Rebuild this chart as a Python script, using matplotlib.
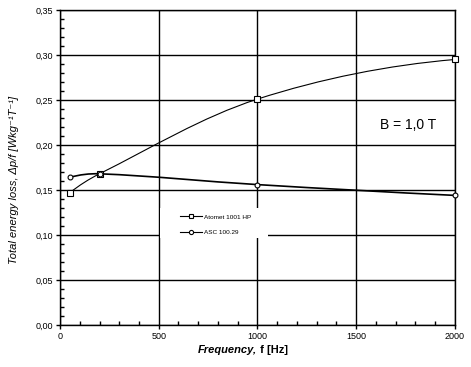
import numpy as np
import matplotlib
matplotlib.use('Agg')
import matplotlib.pyplot as plt
from matplotlib.path import Path
from matplotlib.patches import PathPatch, Rectangle
from matplotlib.lines import Line2D
from matplotlib.ticker import MultipleLocator, FuncFormatter

plt.rcParams['font.family'] = ['Liberation Sans', 'DejaVu Sans']

freq = [50, 200, 1000, 2000]
atomet_loss = [0.147, 0.168, 0.251, 0.295]
asc_loss = [0.164, 0.168, 0.156, 0.144]
series_names = ['Atomet 1001 HP', 'ASC 100.29']
x_ticks = [0, 500, 1000, 1500, 2000]
y_ticks = [0.00, 0.05, 0.10, 0.15, 0.20, 0.25, 0.30, 0.35]

XMAX = 2000.0
YMAX = 0.35
# screen-ish scale so the smoothing looks like the spreadsheet one
SX = 395.0 / XMAX
SY = 315.0 / YMAX


def smooth_path(xs, ys):
	# bezier curve through the points (smoothed line like in Excel)
	p = np.column_stack([np.array(xs) * SX, np.array(ys) * SY])
	n = len(p)
	tang = np.zeros_like(p)
	for i in range(1, n - 1):
		d = p[i + 1] - p[i - 1]
		tang[i] = d / np.linalg.norm(d)
	d0 = p[1] - p[0]
	d0 = d0 / np.linalg.norm(d0)
	t0 = 2 * np.dot(d0, tang[1]) * d0 - tang[1]
	tang[0] = t0 / np.linalg.norm(t0)
	dn = p[-1] - p[-2]
	dn = dn / np.linalg.norm(dn)
	tn = 2 * np.dot(dn, tang[-2]) * dn - tang[-2]
	tang[-1] = tn / np.linalg.norm(tn)
	verts = [p[0]]
	codes = [Path.MOVETO]
	for i in range(n - 1):
		L = np.linalg.norm(p[i + 1] - p[i]) / 3.0
		verts += [p[i] + tang[i] * L, p[i + 1] - tang[i + 1] * L, p[i + 1]]
		codes += [Path.CURVE4] * 3
	verts = np.array(verts)
	verts[:, 0] /= SX
	verts[:, 1] /= SY
	return Path(verts, codes)


fig = plt.figure(figsize=(4.71, 3.67), dpi=100)
ax = fig.add_axes([0.1274, 0.1144, 0.8386, 0.8584])

ax.set_xlim(0, XMAX)
ax.set_ylim(0, YMAX)
ax.xaxis.set_minor_locator(MultipleLocator(100))
ax.yaxis.set_minor_locator(MultipleLocator(0.01))
ax.set_xticks(x_ticks)
ax.set_yticks(y_ticks)
ax.yaxis.set_major_formatter(FuncFormatter(lambda v, p: ('%.2f' % v).replace('.', ',')))
ax.tick_params(which='major', direction='out', length=3, width=1, labelsize=6.5, pad=2)
ax.tick_params(which='minor', direction='in', length=3, width=1)
ax.grid(True, which='major', color='black', linewidth=1)
ax.set_axisbelow(True)
for s in ax.spines.values():
	s.set_linewidth(1)

ax.add_patch(PathPatch(smooth_path(freq, atomet_loss), facecolor='none', edgecolor='black', linewidth=0.8, zorder=3))
ax.add_patch(PathPatch(smooth_path(freq, asc_loss), facecolor='none', edgecolor='black', linewidth=1.2, zorder=3))
ax.plot(freq, atomet_loss, linestyle='none', marker='s', markersize=4, markerfacecolor='white',
	markeredgecolor='black', markeredgewidth=0.8, zorder=4, clip_on=False)
ax.plot(freq, asc_loss, linestyle='none', marker='o', markersize=3.5, markerfacecolor='white',
	markeredgecolor='black', markeredgewidth=0.8, zorder=4, clip_on=False)

# white box behind the legend (hides the grid there)
ax.add_patch(Rectangle((0.253, 0.276), 0.274, 0.095, transform=ax.transAxes,
	facecolor='white', edgecolor='none', zorder=2.5))
handles = [
	Line2D([], [], color='black', linewidth=0.8, marker='s', markersize=3.5, markerfacecolor='white', markeredgewidth=0.8),
	Line2D([], [], color='black', linewidth=0.8, marker='o', markersize=3, markerfacecolor='white', markeredgewidth=0.8),
]
leg = ax.legend(handles, series_names, loc='upper left', bbox_to_anchor=(0.305, 0.352), fontsize=4.6,
	frameon=False, handlelength=3.3, handletextpad=0.4, labelspacing=1.6, borderpad=0, borderaxespad=0)
leg.set_zorder(5)

ax.text(1765, 0.222, 'B = 1,0 T', fontsize=10, ha='center', va='center')

t1 = fig.text(198 / 471, 0.046, 'Frequency,', fontsize=8, fontweight='bold', fontstyle='italic', ha='left', va='center')
ax.annotate(' f [Hz]', xy=(1, 0.5), xycoords=t1, fontsize=8, fontweight='bold', ha='left', va='center')
fig.text(14 / 471, 0.51, 'Total energy loss, \u0394p/f [Wkg\u207b\u00b9T\u207b\u00b9]', fontsize=8,
	fontstyle='italic', rotation=90, ha='center', va='center')

fig.savefig('out.png', dpi=100)
